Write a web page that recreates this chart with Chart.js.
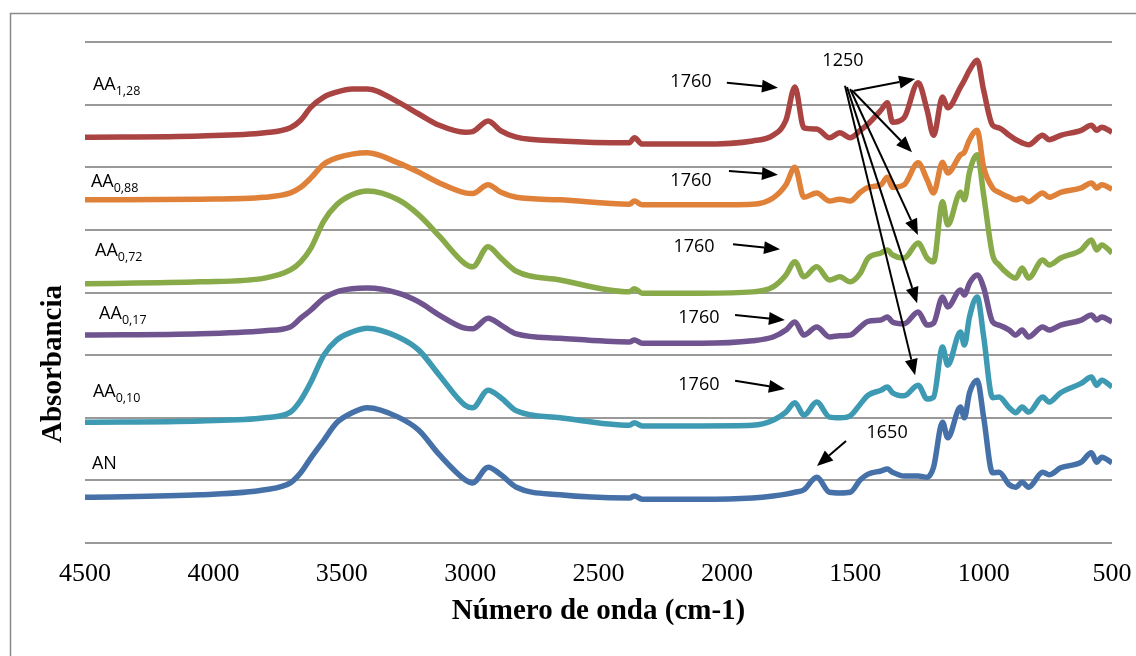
<!DOCTYPE html>
<html>
<head>
<meta charset="utf-8">
<script src="https://cdn.jsdelivr.net/npm/chart.js@4"></script>
<style>
  body { margin: 0; background: #fff; }
</style>
</head>
<body>
<canvas id="myChart" width="1136" height="656"></canvas>
<script>
// wavenumbers (cm-1), shared by every spectrum
var wn = [4500, 4050, 3800, 3700, 3660, 3620, 3570, 3520, 3460, 3400,
  3280, 3200, 3120, 3020, 2990, 2930, 2880, 2820, 2650, 2380,
  2360, 2330, 2100, 1900, 1820, 1770, 1735, 1700, 1650, 1600,
  1560, 1520, 1480, 1450, 1400, 1375, 1355, 1310, 1255, 1220,
  1195, 1160, 1140, 1090, 1075, 1055, 1025, 1000, 965, 940,
  900, 875, 850, 825, 770, 745, 700, 620, 580, 560,
  540, 500];

// stacked absorbance (offset units)
var aa128 = [6.48, 6.50, 6.55, 6.63, 6.75, 6.96, 7.12, 7.20, 7.25, 7.25,
  7.04, 6.85, 6.67, 6.56, 6.57, 6.74, 6.58, 6.48, 6.42, 6.39,
  6.47, 6.37, 6.37, 6.42, 6.51, 6.75, 7.28, 6.63, 6.61, 6.47,
  6.55, 6.47, 6.59, 6.69, 6.91, 7.03, 6.72, 6.79, 7.35, 6.91,
  6.51, 7.12, 6.95, 7.28, 7.39, 7.55, 7.71, 7.23, 6.67, 6.63,
  6.51, 6.44, 6.39, 6.36, 6.51, 6.44, 6.51, 6.59, 6.67, 6.59,
  6.64, 6.56];
var aa088 = [5.48, 5.49, 5.52, 5.59, 5.68, 5.83, 6.05, 6.15, 6.21, 6.23,
  6.07, 5.92, 5.75, 5.59, 5.58, 5.72, 5.60, 5.52, 5.48, 5.41,
  5.46, 5.40, 5.40, 5.41, 5.51, 5.72, 6.00, 5.52, 5.59, 5.46,
  5.49, 5.46, 5.60, 5.68, 5.72, 5.84, 5.68, 5.72, 6.07, 5.80,
  5.59, 6.08, 5.91, 6.20, 6.24, 6.44, 6.59, 6.00, 5.67, 5.60,
  5.52, 5.48, 5.51, 5.45, 5.59, 5.52, 5.60, 5.67, 5.75, 5.67,
  5.72, 5.65];
var aa072 = [4.14, 4.17, 4.23, 4.36, 4.49, 4.71, 5.14, 5.40, 5.56, 5.62,
  5.48, 5.24, 4.90, 4.46, 4.41, 4.73, 4.55, 4.34, 4.20, 4.01,
  4.06, 3.99, 3.99, 4.01, 4.09, 4.28, 4.49, 4.25, 4.41, 4.20,
  4.25, 4.17, 4.31, 4.55, 4.63, 4.68, 4.60, 4.55, 4.79, 4.55,
  4.49, 5.45, 5.08, 5.60, 5.48, 5.92, 6.20, 5.56, 4.60, 4.44,
  4.28, 4.23, 4.39, 4.23, 4.52, 4.44, 4.55, 4.68, 4.84, 4.68,
  4.76, 4.63];
var aa017 = [3.32, 3.34, 3.39, 3.45, 3.59, 3.72, 3.91, 4.01, 4.06, 4.07,
  3.99, 3.85, 3.64, 3.43, 3.42, 3.59, 3.48, 3.34, 3.27, 3.21,
  3.24, 3.19, 3.19, 3.23, 3.29, 3.40, 3.53, 3.32, 3.45, 3.29,
  3.31, 3.32, 3.45, 3.54, 3.56, 3.61, 3.53, 3.50, 3.69, 3.48,
  3.51, 3.93, 3.77, 4.04, 3.96, 4.15, 4.28, 4.08, 3.53, 3.48,
  3.40, 3.32, 3.40, 3.29, 3.45, 3.40, 3.48, 3.56, 3.64, 3.56,
  3.61, 3.53];
var aa010 = [1.93, 1.95, 2.00, 2.09, 2.28, 2.57, 3.00, 3.24, 3.37, 3.43,
  3.29, 3.08, 2.68, 2.20, 2.16, 2.44, 2.32, 2.11, 2.00, 1.88,
  1.92, 1.87, 1.87, 1.88, 1.96, 2.09, 2.24, 2.04, 2.25, 2.01,
  2.00, 2.03, 2.22, 2.36, 2.44, 2.49, 2.40, 2.35, 2.52, 2.30,
  2.33, 3.13, 2.84, 3.37, 3.16, 3.61, 3.93, 3.30, 2.32, 2.33,
  2.16, 2.08, 2.17, 2.09, 2.33, 2.25, 2.40, 2.55, 2.65, 2.52,
  2.60, 2.49];
var an = [0.73, 0.77, 0.85, 0.96, 1.12, 1.36, 1.64, 1.92, 2.08, 2.16,
  2.01, 1.80, 1.41, 1.01, 0.96, 1.21, 1.09, 0.89, 0.77, 0.72,
  0.75, 0.70, 0.70, 0.72, 0.75, 0.78, 0.81, 0.85, 1.05, 0.81,
  0.80, 0.81, 1.01, 1.10, 1.15, 1.18, 1.13, 1.07, 1.07, 1.05,
  1.21, 1.93, 1.68, 2.17, 2.00, 2.40, 2.60, 2.01, 1.12, 1.13,
  0.93, 0.89, 0.97, 0.89, 1.13, 1.09, 1.20, 1.29, 1.44, 1.29,
  1.37, 1.28];

var seriesData = [aa128, aa088, aa072, aa017, aa010, an];
var seriesMain = ['AA', 'AA', 'AA', 'AA', 'AA', 'AN'];
var seriesSub = ['1,28', '0,88', '0,72', '0,17', '0,10', ''];
var seriesColors = ['#a94442', '#e0813a', '#88aa48', '#6f5490', '#3e9ab2', '#4571a8'];
// where the sample names sit (wavenumber, absorbance)
var nameX = [4469, 4477, 4461, 4445, 4469, 4473];
var nameY = [7.23, 5.68, 4.58, 3.58, 2.33, 1.18];

var xTicks = [500, 1000, 1500, 2000, 2500, 3000, 3500, 4000, 4500];

// band labels: text, position (wavenumber, absorbance)
var bandText = ['1760', '1760', '1760', '1760', '1760', '1650', '1250'];
var bandX = [2140, 2140, 2128, 2109, 2109, 1376, 1548];
var bandY = [7.36, 5.78, 4.73, 3.59, 2.52, 1.76, 7.70];

// arrows: from (x1,y1) to (x2,y2) in data units
var arrX1 = [2000, 1992, 1976, 1968, 1968, 1536, 1505, 1513, 1520, 1532, 1540];
var arrY1 = [7.35, 5.94, 4.77, 3.64, 2.59, 1.63, 7.22, 7.23, 7.25, 7.28, 7.30];
var arrX2 = [1801, 1801, 1793, 1774, 1774, 1649, 1267, 1279, 1256, 1259, 1267];
var arrY2 = [7.27, 5.88, 4.69, 3.56, 2.46, 1.23, 7.41, 6.24, 4.92, 3.83, 2.68];

function drawArrow(ctx, x1, y1, x2, y2) {
  var a = Math.atan2(y2 - y1, x2 - x1);
  var hl = 16, hw = 6.5;
  var bx = x2 - hl * Math.cos(a), by = y2 - hl * Math.sin(a);
  ctx.beginPath();
  ctx.moveTo(x1, y1);
  ctx.lineTo(bx, by);
  ctx.stroke();
  ctx.beginPath();
  ctx.moveTo(x2, y2);
  ctx.lineTo(bx + hw * Math.sin(a), by - hw * Math.cos(a));
  ctx.lineTo(bx - hw * Math.sin(a), by + hw * Math.cos(a));
  ctx.closePath();
  ctx.fill();
}

var annot = {
  id: 'annot',
  beforeDraw: function (chart) {
    var ctx = chart.ctx;
    ctx.save();
    ctx.strokeStyle = '#8a8a8a';
    ctx.lineWidth = 1.5;
    ctx.strokeRect(10.5, 13.5, 1200, 800);
    ctx.restore();
  },
  afterDatasetsDraw: function (chart) {
    var ctx = chart.ctx;
    var sx = chart.scales.x, sy = chart.scales.y;
    ctx.save();

    // y axis title
    ctx.save();
    ctx.translate(61, 364);
    ctx.rotate(-Math.PI / 2);
    ctx.font = 'bold 29px "Liberation Serif"';
    ctx.fillStyle = '#000';
    ctx.textAlign = 'center';
    ctx.textBaseline = 'alphabetic';
    ctx.fillText('Absorbancia', 0, 0);
    ctx.restore();

    // sample names
    ctx.fillStyle = '#000';
    ctx.textAlign = 'left';
    ctx.textBaseline = 'alphabetic';
    for (var i = 0; i < seriesMain.length; i++) {
      var px = sx.getPixelForValue(nameX[i]);
      var py = sy.getPixelForValue(nameY[i]);
      ctx.font = '18px "Open Sans"';
      ctx.fillText(seriesMain[i], px, py);
      var w = ctx.measureText(seriesMain[i]).width;
      if (seriesSub[i]) {
        ctx.font = '12.5px "Open Sans"';
        ctx.fillText(seriesSub[i], px + w, py + 5);
      }
    }

    // band labels
    ctx.font = '18px "Open Sans"';
    ctx.textAlign = 'center';
    ctx.textBaseline = 'middle';
    for (var j = 0; j < bandText.length; j++) {
      ctx.fillText(bandText[j], sx.getPixelForValue(bandX[j]), sy.getPixelForValue(bandY[j]));
    }

    // arrows
    ctx.strokeStyle = '#000';
    ctx.lineWidth = 2;
    for (var k = 0; k < arrX1.length; k++) {
      drawArrow(ctx,
        sx.getPixelForValue(arrX1[k]), sy.getPixelForValue(arrY1[k]),
        sx.getPixelForValue(arrX2[k]), sy.getPixelForValue(arrY2[k]));
    }
    ctx.restore();
  }
};

var datasets = seriesData.map(function (vals, i) {
  return {
    label: seriesMain[i] + seriesSub[i],
    data: wn.map(function (w, n) { return { x: w, y: vals[n] }; }),
    borderColor: seriesColors[i],
    backgroundColor: seriesColors[i],
    borderWidth: 5.5,
    pointRadius: 0,
    fill: false,
    cubicInterpolationMode: 'monotone'
  };
});

new Chart('myChart', {
  type: 'line',
  data: { datasets: datasets },
  options: {
    responsive: false,
    animation: false,
    layout: { padding: { left: 0, right: 24, top: 42, bottom: 0 } },
    plugins: { legend: { display: false }, tooltip: { enabled: false } },
    scales: {
      x: {
        type: 'linear',
        reverse: true,
        min: 500,
        max: 4500,
        afterFit: function (s) {
          s.height = 113;
          s.paddingLeft = 0;
          s.paddingRight = 0;
        },
        afterBuildTicks: function (s) { s.ticks = xTicks.map(function (v) { return { value: v }; }); },
        grid: { display: false, drawTicks: false },
        border: { display: false },
        ticks: {
          padding: 16,
          color: '#000',
          maxRotation: 0,
          callback: function (v) { return String(v); },
          font: { family: 'Liberation Serif', size: 26 }
        },
        title: {
          display: true,
          text: 'Número de onda (cm-1)',
          color: '#000',
          font: { family: 'Liberation Serif', size: 29, weight: 'bold' },
          padding: { top: 0, bottom: 27 }
        }
      },
      y: {
        min: 0,
        max: 8,
        afterFit: function (s) { s.width = 85; },
        grid: { color: '#999999', lineWidth: 2, drawTicks: false },
        border: { display: false },
        ticks: { display: false, stepSize: 1 }
      }
    }
  },
  plugins: [annot]
});
</script>
</body>
</html>
